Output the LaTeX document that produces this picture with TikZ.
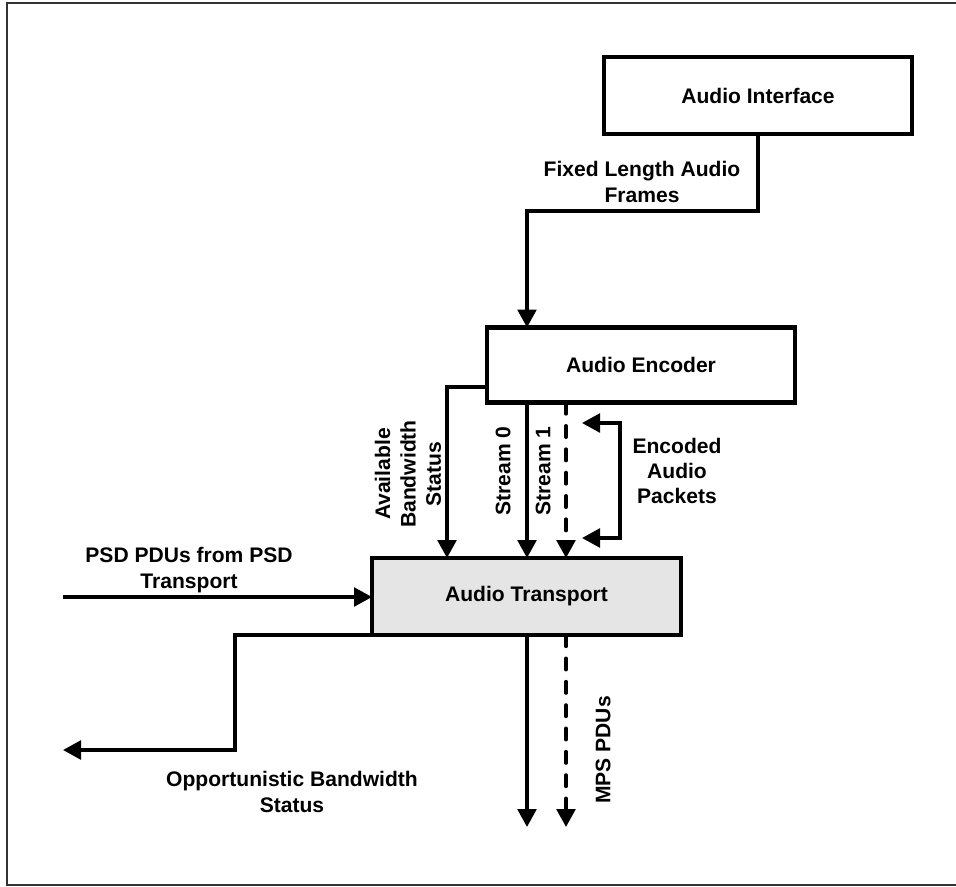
\documentclass[tikz,border=0pt]{standalone}
\usepackage{fontspec}
\setmainfont{Liberation Sans}
\usetikzlibrary{arrows.meta}
\begin{document}
\begin{tikzpicture}[x=0.75pt,y=-0.75pt,
  every node/.style={font=\fontsize{15.8}{19}\selectfont\bfseries, inner sep=0pt, outer sep=0pt},
  blockbox/.style={draw, line width=3.3pt, minimum height=76*0.75pt, minimum width=308*0.75pt},
  conn/.style={line width=2.7pt, line join=miter},
  arr/.style={conn, -{Triangle[width=14pt,length=13.5pt]}},
  barr/.style={conn, {Triangle[width=14pt,length=13.5pt]}-{Triangle[width=14pt,length=13.5pt]}},
  dashline/.style={dash pattern=on 8.5pt off 9pt, line cap=round},
  lbl/.style={align=center},
  vlbl/.style={align=center, rotate=90}]
\useasboundingbox (0,0) rectangle (956,886);
% outer frame
\draw[line width=1.1pt, black!80] (975,3) -- (7,3) -- (7,885) -- (975,885);

% blocks
\node[blockbox, minimum width=308*0.75pt, minimum height=77*0.75pt] (ai) at (758,95.5) {Audio Interface};
\node[blockbox, minimum width=308*0.75pt, minimum height=75*0.75pt] (enc) at (641,365) {Audio Encoder};
\node[blockbox, fill=black!10, minimum width=309*0.75pt, minimum height=77*0.75pt] (tr) at (526.5,596.5) {Audio Transport};

% coordinates
\coordinate (k1) at (527,211);
\coordinate (k2) at (447,387);
\coordinate (s0) at (527,0);
\coordinate (s1) at (566,0);
\coordinate (b1) at (582,423);
\coordinate (b2) at (620,423);
\coordinate (b3) at (620,538);
\coordinate (b4) at (582,538);
\coordinate (psd) at (63,597);
\coordinate (o1) at (235,635);
\coordinate (o2) at (235,750);
\coordinate (o3) at (63,750);
\coordinate (out0) at (527,827);
\coordinate (out1) at (566,827);

% connectors
\draw[arr] (ai.south) |- (k1) -- (k1 |- enc.north);
\draw[arr] (enc.west |- k2) -- (k2) -- (k2 |- tr.north);
\draw[arr] (s0 |- enc.south) -- (s0 |- tr.north);
\draw[arr, dashline] (s1 |- enc.south) -- (s1 |- tr.north);
\draw[barr] (b1) -- (b2) -- (b3) -- (b4);
\draw[arr] (psd) -- (tr.west |- psd);
\draw[arr] (tr.south west) -- (o1) -- (o2) -- (o3);
\draw[arr] (s0 |- tr.south) -- (out0);
\draw[arr, dashline] (s1 |- tr.south) -- (out1);

% labels
\node[lbl] (lfixed) at (642,182) {Fixed Length Audio\\Frames};
\node[vlbl] (lavail) at (408,474) {Available\\Bandwidth\\Status};
\node[vlbl] (ls0) at (503,471) {Stream 0};
\node[vlbl] (ls1) at (543,471) {Stream 1};
\node[lbl] (lenc) at (677,471) {Encoded\\Audio\\Packets};
\node[lbl] (lpsd) at (189,570) {PSD PDUs from PSD\\Transport};
\node[lbl] (lopp) at (292,792) {Opportunistic Bandwidth\\Status};
\node[vlbl] (lmps) at (603,750) {MPS PDUs};
\end{tikzpicture}
\end{document}
